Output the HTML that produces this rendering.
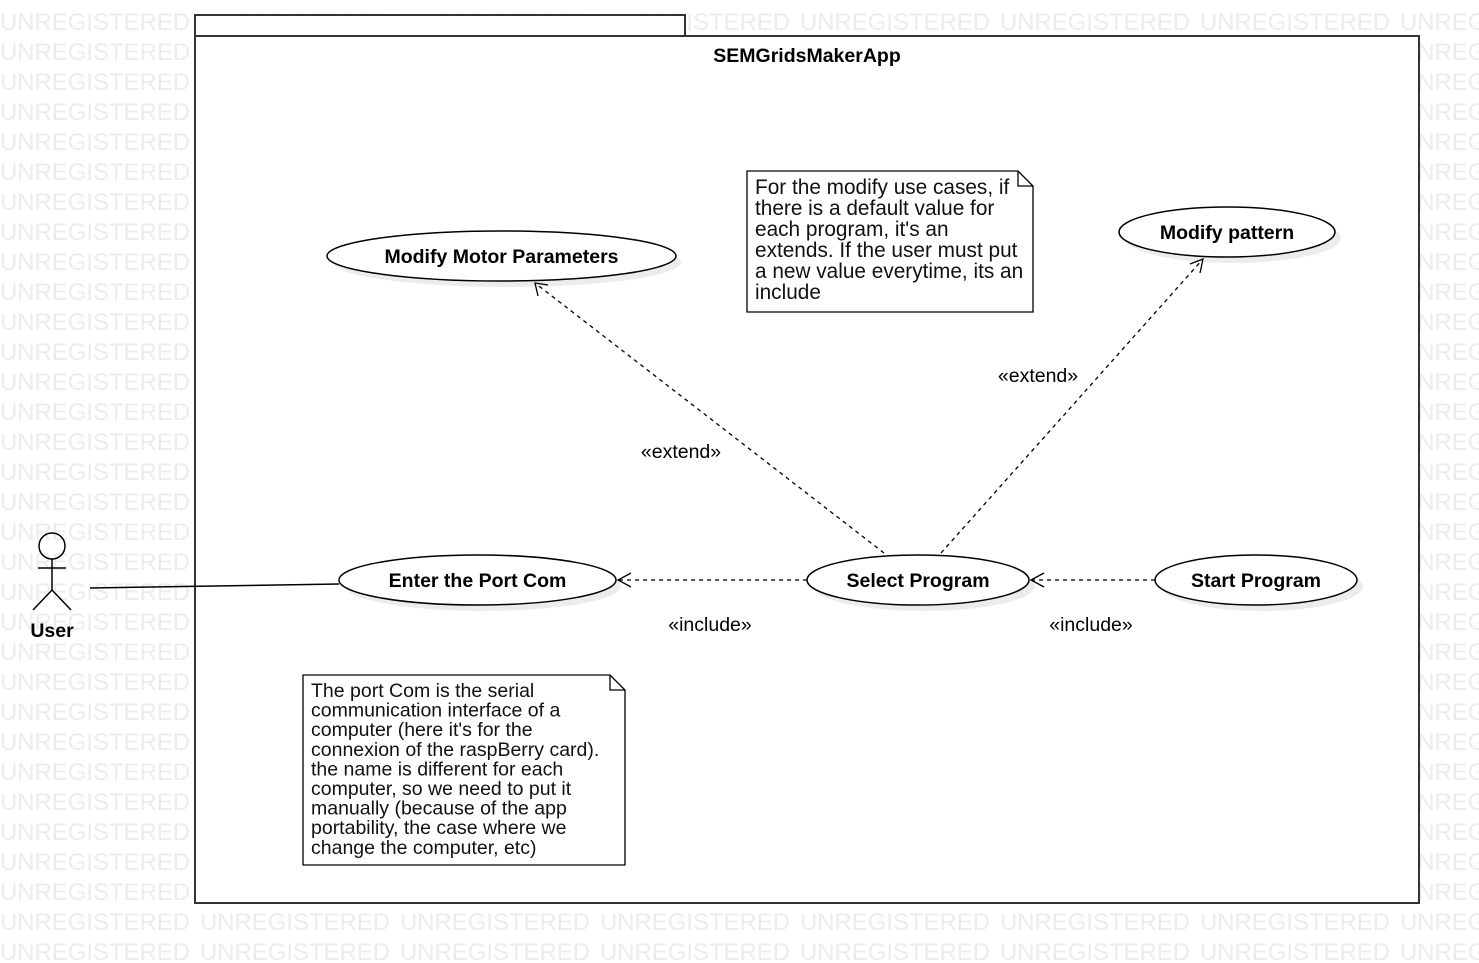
<!DOCTYPE html>
<html><head><meta charset="utf-8"><style>
html,body{margin:0;padding:0;background:#fff;}
svg{display:block;font-family:"Liberation Sans",Arial,sans-serif;}
</style></head><body>
<svg width="1479" height="963" viewBox="0 0 1479 963" xmlns="http://www.w3.org/2000/svg">
<defs>
<pattern id="wm" x="0" y="0" width="200" height="30" patternUnits="userSpaceOnUse">
<text x="0" y="30" font-size="24" fill="#ececec" textLength="190" lengthAdjust="spacingAndGlyphs">UNREGISTERED</text>
</pattern>
</defs>
<rect x="0" y="0" width="1479" height="963" fill="url(#wm)"/>
<rect x="0" y="0" width="1479" height="8" fill="#fff"/>
<rect x="195" y="15" width="490" height="21" fill="#fff" stroke="#333" stroke-width="2"/>
<rect x="195" y="36" width="1224" height="867" fill="#fff" stroke="#333" stroke-width="2"/>
<text x="807" y="62" font-size="19.5" font-weight="bold" text-anchor="middle">SEMGridsMakerApp</text>
<g fill="#ececec">
<ellipse cx="507" cy="262" rx="174" ry="25"/>
<ellipse cx="1233" cy="238" rx="108" ry="25"/>
<ellipse cx="483" cy="586" rx="138" ry="25"/>
<ellipse cx="924" cy="586" rx="111" ry="25"/>
<ellipse cx="1262" cy="586" rx="101" ry="25"/>
</g>
<g fill="#fff" stroke="#000" stroke-width="1.5">
<ellipse cx="501.5" cy="256" rx="174.5" ry="25"/>
<ellipse cx="1227" cy="232" rx="108" ry="25"/>
<ellipse cx="477.5" cy="580" rx="138.5" ry="25"/>
<ellipse cx="918" cy="580" rx="111" ry="25"/>
<ellipse cx="1256" cy="580" rx="101" ry="25"/>
</g>
<g font-size="19.5" font-weight="bold" text-anchor="middle">
<text x="501.5" y="263">Modify Motor Parameters</text>
<text x="1227" y="239">Modify pattern</text>
<text x="477.5" y="587">Enter the Port Com</text>
<text x="918" y="587">Select Program</text>
<text x="1256" y="587">Start Program</text>
</g>
<g stroke="#000" stroke-width="1.5" fill="none">
<circle cx="52" cy="546" r="13"/>
<line x1="52" y1="559" x2="52" y2="590"/>
<line x1="38" y1="568" x2="66" y2="568"/>
<line x1="52" y1="590" x2="33" y2="610"/>
<line x1="52" y1="590" x2="71" y2="610"/>
<line x1="90" y1="588" x2="339" y2="584"/>
</g>
<text x="52" y="637" font-size="19.5" font-weight="bold" text-anchor="middle">User</text>
<g stroke="#000" stroke-width="1.3" fill="none" stroke-dasharray="4,4">
<line x1="807" y1="580" x2="618" y2="580"/>
<line x1="1155" y1="580" x2="1031" y2="580"/>
<line x1="884" y1="553" x2="535" y2="283"/>
<line x1="941" y1="553" x2="1203" y2="259"/>
</g>
<g stroke="#000" stroke-width="1.3" fill="none">
<polyline points="631,573 618,580 631,587"/>
<polyline points="1044,573 1031,580 1044,587"/>
<polyline points="538,296 535,283 548,285"/>
<polyline points="1190,264 1203,259 1200,273"/>
</g>
<g font-size="19.5" text-anchor="middle">
<text x="681" y="458">«extend»</text>
<text x="1038" y="382">«extend»</text>
<text x="710" y="631">«include»</text>
<text x="1091" y="631">«include»</text>
</g>
<g fill="#fff" stroke="#000" stroke-width="1.3">
<path d="M747,171 H1018 L1033,186 V312 H747 Z"/>
<path d="M1018,171 V186 H1033" fill="none"/>
<path d="M303,675 H610 L625,690 V865 H303 Z"/>
<path d="M610,675 V690 H625" fill="none"/>
</g>
<g font-size="20.8" fill="#111">
<text x="755" y="194">For the modify use cases, if</text>
<text x="755" y="215">there is a default value for</text>
<text x="755" y="236">each program, it's an</text>
<text x="755" y="257">extends. If the user must put</text>
<text x="755" y="278">a new value everytime, its an</text>
<text x="755" y="299">include</text>
</g>
<g font-size="19.5" fill="#111">
<text x="311" y="697">The port Com is the serial</text>
<text x="311" y="716.6">communication interface of a</text>
<text x="311" y="736.2">computer (here it's for the</text>
<text x="311" y="755.8">connexion of the raspBerry card).</text>
<text x="311" y="775.4">the name is different for each</text>
<text x="311" y="795">computer, so we need to put it</text>
<text x="311" y="814.6">manually (because of the app</text>
<text x="311" y="834.2">portability, the case where we</text>
<text x="311" y="853.8">change the computer, etc)</text>
</g>
</svg>
</body></html>
